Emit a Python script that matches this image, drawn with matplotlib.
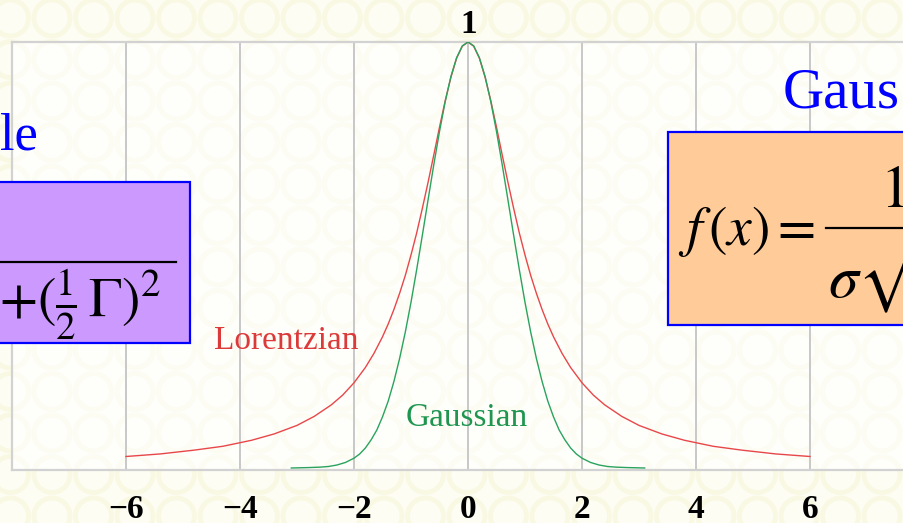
import matplotlib
matplotlib.use('Agg')
import matplotlib.pyplot as plt
from matplotlib.patches import Rectangle, Ellipse
from matplotlib.lines import Line2D

# Lorentzian line shape (unit half width)
lor_x = [-6.0, -5.4, -4.8, -4.3, -3.8, -3.4, -3.0, -2.7, -2.4, -2.2, -2.0, -1.8, -1.65,
         -1.5, -1.4, -1.3, -1.2, -1.1, -1.0, -0.9, -0.8, -0.7, -0.6, -0.5, -0.4, -0.3,
         -0.2, -0.1, 0.0, 0.1, 0.2, 0.3, 0.4, 0.5, 0.6, 0.7, 0.8, 0.9, 1.0, 1.1, 1.2,
         1.3, 1.4, 1.5, 1.65, 1.8, 2.0, 2.2, 2.4, 2.7, 3.0, 3.4, 3.8, 4.3, 4.8, 5.4, 6.0]
lor_y = [0.027, 0.033, 0.042, 0.051, 0.065, 0.080, 0.100, 0.121, 0.148, 0.171, 0.200, 0.236, 0.269,
         0.308, 0.338, 0.372, 0.410, 0.452, 0.500, 0.552, 0.610, 0.671, 0.735, 0.800, 0.862, 0.917,
         0.962, 0.990, 1.000, 0.990, 0.962, 0.917, 0.862, 0.800, 0.735, 0.671, 0.610, 0.552, 0.500, 0.452, 0.410,
         0.372, 0.338, 0.308, 0.269, 0.236, 0.200, 0.171, 0.148, 0.121, 0.100, 0.080, 0.065, 0.051, 0.042, 0.033, 0.027]

# Gaussian line shape, same peak height
gau_x = [-3.1, -2.8, -2.6, -2.45, -2.3, -2.15, -2.0, -1.9, -1.8, -1.7, -1.6, -1.5, -1.4,
         -1.3, -1.2, -1.1, -1.0, -0.9, -0.8, -0.7, -0.6, -0.5, -0.4, -0.3, -0.2, -0.1,
         0.0, 0.1, 0.2, 0.3, 0.4, 0.5, 0.6, 0.7, 0.8, 0.9, 1.0, 1.1, 1.2, 1.3, 1.4,
         1.5, 1.6, 1.7, 1.8, 1.9, 2.0, 2.15, 2.3, 2.45, 2.6, 2.8, 3.1]
gau_y = [0.000, 0.001, 0.002, 0.0035, 0.007, 0.013, 0.023, 0.033, 0.047, 0.066, 0.089, 0.120, 0.157,
         0.203, 0.257, 0.319, 0.389, 0.466, 0.547, 0.630, 0.712, 0.790, 0.860, 0.919, 0.963, 0.991,
         1.000, 0.991, 0.963, 0.919, 0.860, 0.790, 0.712, 0.630, 0.547, 0.466, 0.389, 0.319, 0.257, 0.203, 0.157,
         0.120, 0.089, 0.066, 0.047, 0.033, 0.023, 0.013, 0.007, 0.0035, 0.002, 0.001, 0.000]

tick_vals = [-6, -4, -2, 0, 2, 4, 6]
tick_text = ['\u22126', '\u22124', '\u22122', '0', '2', '4', '6']

W, H = 904, 523
plt.rcParams['mathtext.fontset'] = 'stix'
serif = 'Liberation Serif'

fig = plt.figure(figsize=(W / 100, H / 100), dpi=100)
fig.patch.set_facecolor('#fdfdf4')


def fx(x):
    return x / W


def fy(y):
    return 1 - y / H


# faint ring wallpaper behind everything
for row in range(13):
    for col in range(23):
        cx = 10.5 + 41.5 * col
        cy = 18 + 41.5 * row
        fig.patches.append(Ellipse((fx(cx), fy(cy)), 36 / W, 36 / H, transform=fig.transFigure,
                                   facecolor='none', edgecolor='#f9f9e3', lw=3.5, zorder=-10))

# plot area: -8 at px 12, 57 px per unit, y=1 at px 42, y=0 at px 468
ax = fig.add_axes([fx(12), fy(470), fx(W - 12), (470 - 42) / H])
ax.set_zorder(1)
ax.set_xlim(-8, (W - 468) / 57)
ax.set_ylim(-2 / 426, 1)
ax.patch.set_facecolor('white')
ax.patch.set_alpha(0.6)
for side in ['top', 'left', 'bottom']:
    ax.spines[side].set_color('#d2d2d2')
    ax.spines[side].set_linewidth(1.6)
ax.spines['right'].set_visible(False)
for v in tick_vals:
    ax.axvline(v, color='#c8c8c8', lw=1.4, zorder=1)

ax.plot(lor_x, lor_y, color='#e8474a', lw=1.0, zorder=3)
ax.plot(gau_x, gau_y, color='#2aa35e', lw=1.0, zorder=4)

ax.set_xticks(tick_vals)
ax.set_xticklabels(tick_text, fontsize=24, fontweight='bold', family=serif)
ax.set_yticks([])
ax.tick_params(axis='x', length=0, pad=17)

fig.text(fx(469), fy(33), '1', ha='center', va='baseline', fontsize=24,
         fontweight='bold', family=serif, zorder=2)

ax.text(-4.45, 0.28, 'Lorentzian', color='#dc3a3a', fontsize=24, family=serif, va='baseline')
ax.text(-1.09, 0.098, 'Gaussian', color='#1f9650', fontsize=24, family=serif, va='baseline')

# headings
fig.text(fx(0), fy(150), 'le', color='#0000ff', fontsize=38, family=serif, va='baseline', zorder=2)
fig.text(fx(783), fy(107), 'Gaus', color='#0000ff', fontsize=41, family=serif, va='baseline',
         ha='left', zorder=2)

# Lorentzian formula box
fig.patches.append(Rectangle((fx(-5), fy(343)), fx(195), (343 - 182) / H, transform=fig.transFigure,
                             facecolor='#cc99ff', edgecolor='#0000ff', lw=1.6, zorder=5))
fig.lines.append(Line2D([fx(-5), fx(176)], [fy(262), fy(262)], transform=fig.transFigure,
                        color='black', lw=1.6, zorder=6))
fig.text(fx(-1), fy(317), r'$+(\frac{1}{2}\,\Gamma)^2$', ha='left', va='baseline',
         fontsize=40, zorder=6)

# Gaussian formula box
fig.patches.append(Rectangle((fx(668), fy(325)), fx(260), (325 - 132) / H, transform=fig.transFigure,
                             facecolor='#ffcc99', edgecolor='#0000ff', lw=1.6, zorder=5))
fig.text(fx(678), fy(245), r'$f\,(x)=$', ha='left', va='baseline', fontsize=40, zorder=6)
fig.text(fx(893), fy(207), r'$1$', ha='center', va='baseline', fontsize=43, zorder=6)
fig.lines.append(Line2D([fx(826), fx(920)], [fy(228), fy(228)], transform=fig.transFigure,
                        color='black', lw=1.6, zorder=6))
fig.text(fx(828), fy(297), r'$\sigma\sqrt{2\pi}$', ha='left', va='baseline', fontsize=43, zorder=6)

fig.savefig('out.png', dpi=100, facecolor=fig.get_facecolor())
